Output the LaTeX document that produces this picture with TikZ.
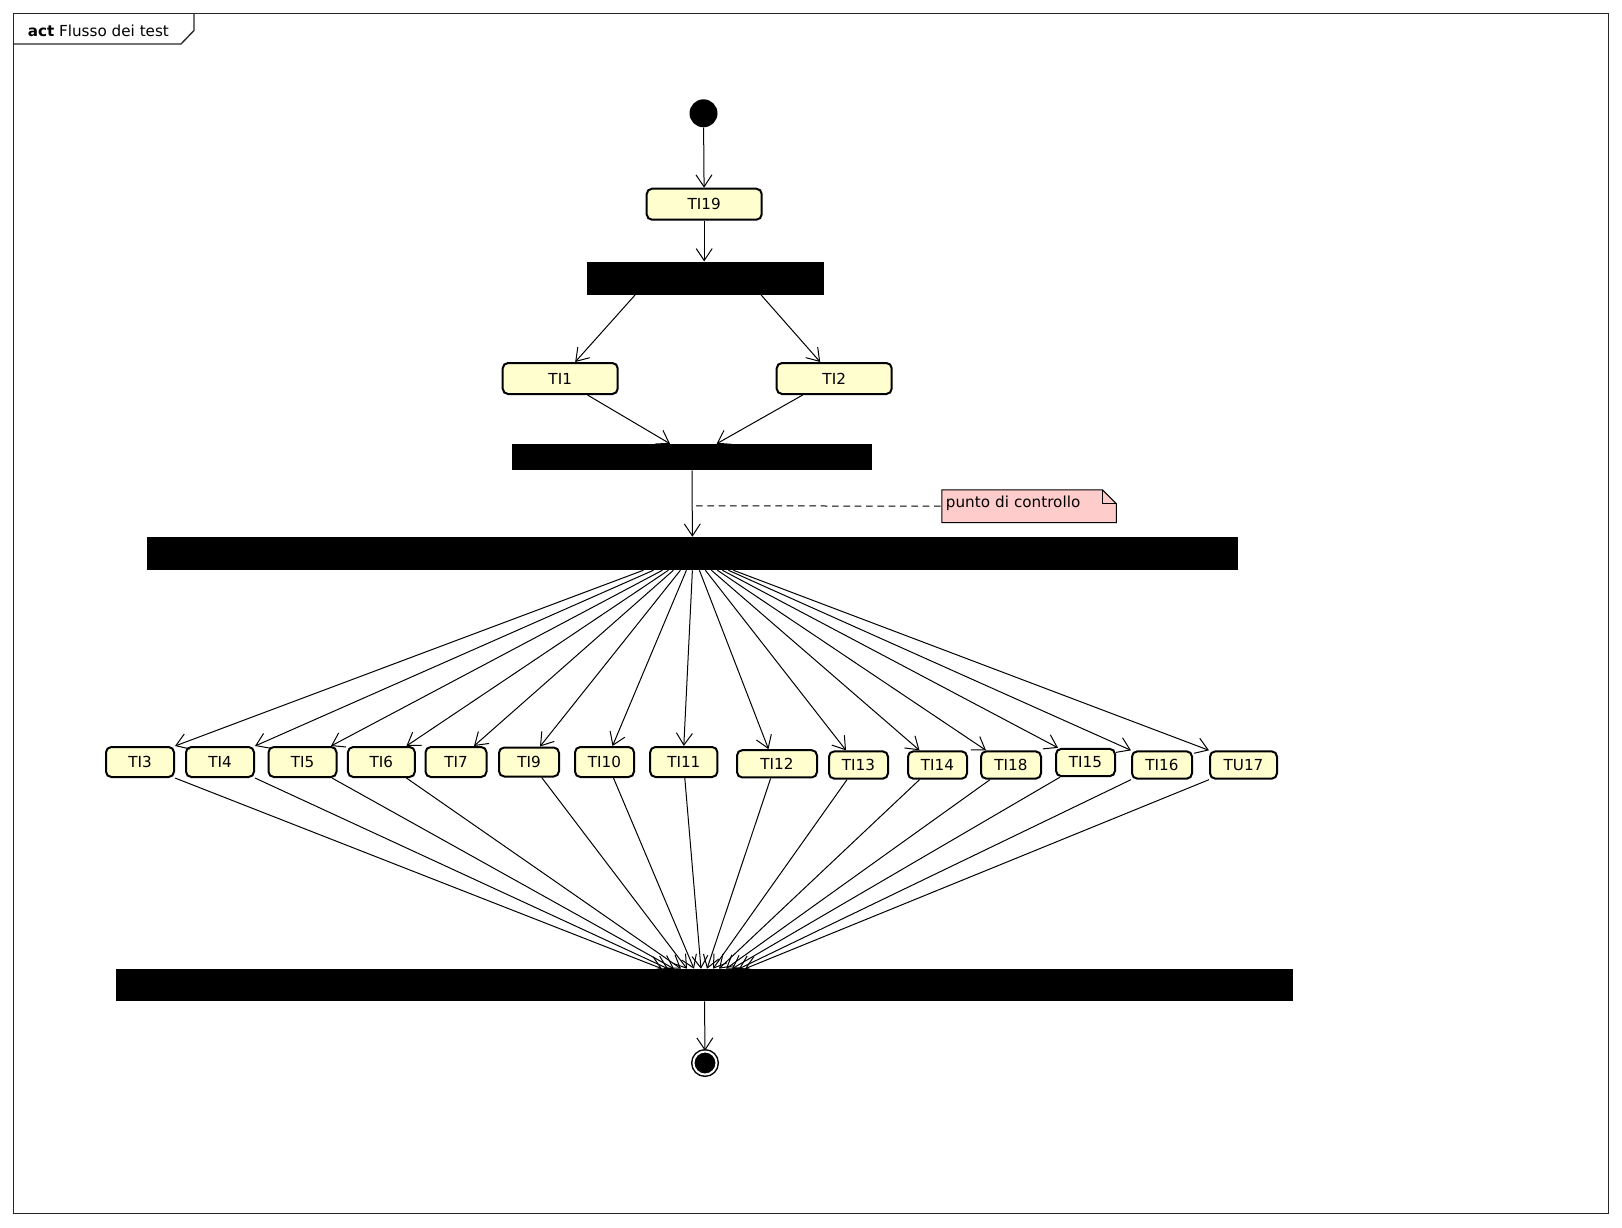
\documentclass[tikz,border=0pt]{standalone}
\usepackage{fontspec}
\setmainfont{DejaVu Sans}
\usepackage{tikz}
\usetikzlibrary{shapes, arrows.meta, calc, backgrounds}
\definecolor{actfill}{HTML}{FEFECE}
\definecolor{notefill}{HTML}{FFCCCC}
\tikzstyle{activity} = [rectangle, draw, line width=1.5pt, rounded corners=4pt,
    fill=actfill, inner sep=0pt, minimum height=22.5pt]
\tikzstyle{forkbar} = [rectangle, fill=black, inner sep=0pt]
\tikzstyle{line} = [draw, line width=0.75pt, -{Straight Barb[length=9pt,width=12pt]}]

\begin{document}
\begin{tikzpicture}[x=0.75pt, y=-0.75pt, font=\fontsize{11.4pt}{13pt}\selectfont,
    startnode/.style={circle, fill=black, inner sep=0pt, minimum size=21pt},
    stopnode/.style={circle, draw=black, fill=black, double=white,
        double distance=1.5pt, line width=1.1pt, inner sep=0pt, minimum size=17.3pt},
    notebox/.style={inner xsep=2.75pt, inner ysep=0pt, text width=125pt, align=left,
        minimum height=24.2pt, text height=0.76em, text depth=0.5em},
    bigbox/.style={minimum width=86.25pt, minimum height=23.25pt},
    lowbox/.style={minimum height=20.5pt}
    ]
    \useasboundingbox (0,0) rectangle (1622,1228);

    % frame
    \draw[line width=1pt, black!85] (13.5,13.5) rectangle (1608.5,1213.5);
    \node[anchor=west, inner sep=0pt] (title) at (27.5,30.5) {\textbf{act} Flusso dei test};
    \draw[line width=1pt, black!85] (13.5,44) -- (181,44) -- (194,30.5) -- (194,13.5);

    \node[startnode] (start) at (703.5,113.3) {};
    \node[activity, bigbox] (ti19) at (704.2,204.2) {TI19};
    \node[forkbar, minimum width=177.75pt, minimum height=24.75pt] (fork1) at (705.1,278.2) {};
    \node[activity, bigbox] (ti1) at (560.2,378.5) {TI1};
    \node[activity, bigbox] (ti2) at (834.2,378.5) {TI2};
    \node[forkbar, minimum width=270pt, minimum height=19.5pt] (join1) at (692,457) {};
    \node[forkbar, minimum width=818.25pt, minimum height=24.75pt] (fork2) at (692.4,553.5) {};
    \node[notebox] (note) at (1029.2,506.2) {punto di controllo};

    \node[activity, minimum width=51pt] (ti3) at (140,762) {TI3};
    \node[activity, minimum width=51pt] (ti4) at (220,762) {TI4};
    \node[activity, minimum width=51pt] (ti5) at (302.5,762) {TI5};
    \node[activity, minimum width=50.25pt] (ti6) at (381.4,762) {TI6};
    \node[activity, minimum width=45.75pt] (ti7) at (456,762) {TI7};
    \node[activity, minimum width=45pt, minimum height=21.75pt] (ti9) at (529,762) {TI9};
    \node[activity, minimum width=44.25pt] (ti10) at (604.5,762) {TI10};
    \node[activity, minimum width=50.5pt] (ti11) at (683.8,762) {TI11};
    \node[activity, lowbox, minimum width=60pt] (ti12) at (777,763.8) {TI12};
    \node[activity, lowbox, minimum width=44.25pt] (ti13) at (858.5,765) {TI13};
    \node[activity, lowbox, minimum width=44.25pt] (ti14) at (937.5,765) {TI14};
    \node[activity, lowbox, minimum width=45pt] (ti18) at (1011,765) {TI18};
    \node[activity, lowbox, minimum width=44.25pt] (ti15) at (1085.5,762.5) {TI15};
    \node[activity, lowbox, minimum width=45pt] (ti16) at (1162,765) {TI16};
    \node[activity, lowbox, minimum width=50.25pt] (tu17) at (1243.5,765) {TU17};

    \node[forkbar, minimum width=882.75pt, minimum height=24pt] (join2) at (704.5,985) {};
    \node[stopnode] (stop) at (705,1063) {};

    % note with folded corner
    \begin{scope}[on background layer]
        \draw[line width=0.75pt, fill=notefill] (note.north west)
            -- ($(note.north east)+(-14,0)$) -- ($(note.north east)+(0,14)$)
            -- (note.south east) -- (note.south west) -- cycle;
        \draw[line width=0.75pt] ($(note.north east)+(-14,0)$)
            -- ($(note.north east)+(-14,14)$) -- ($(note.north east)+(0,14)$);
    \end{scope}

    \draw[line] (start) -- (ti19);
    \draw[line] (ti19.south) -- (ti19.south |- fork1.north);
    \draw[line] ($(fork1.south)+(-70,0)$) -- ($(ti1.north)+(15,0)$);
    \draw[line] ($(fork1.south)+(56,0)$) -- ($(ti2.north)+(-14,0)$);
    \draw[line] ($(ti1.south)+(27.3,0)$) -- ($(join1.north)+(-22,0)$);
    \draw[line] ($(ti2.south)+(-31.5,0)$) -- ($(join1.north)+(24.7,0)$);
    \draw[line] (join1.south) -- (fork2.north);
    \coordinate (ctl) at ($(join1.south)+(4,35.5)$);
    \draw[line width=0.75pt, dash pattern=on 5pt off 3.5pt] (ctl) -- (note.west);

    % fork to the tests
    \draw[line] ($(fork2.south)+(-49,0)$) -- (ti3.north east);
    \draw[line] ($(fork2.south)+(-39,0)$) -- (ti4.north east);
    \draw[line] ($(fork2.south)+(-30,0)$) -- ($(ti5.north)+(28.5,0)$);
    \draw[line] ($(fork2.south)+(-24,0)$) -- ($(ti6.north)+(25,0)$);
    \draw[line] ($(fork2.south)+(-19,0)$) -- ($(ti7.north)+(18,0)$);
    \draw[line] ($(fork2.south)+(-12,0)$) -- ($(ti9.north)+(11,0)$);
    \draw[line] ($(fork2.south)+(-6,0)$) -- ($(ti10.north)+(8,0)$);
    \draw[line] (fork2.south) -- (ti11.north);
    \draw[line] ($(fork2.south)+(7,0)$) -- ($(ti12.north)+(-8.5,0)$);
    \draw[line] ($(fork2.south)+(13,0)$) -- ($(ti13.north)+(-12.5,0)$);
    \draw[line] ($(fork2.south)+(19,0)$) -- ($(ti14.north)+(-18,0)$);
    \draw[line] ($(fork2.south)+(25,0)$) -- ($(ti18.north)+(-25,0)$);
    \draw[line] ($(fork2.south)+(30,0)$) -- ($(ti15.north)+(-27.5,0)$);
    \draw[line] ($(fork2.south)+(36,0)$) -- (ti16.north west);
    \draw[line] ($(fork2.south)+(41,0)$) -- (tu17.north west);

    % tests to the join
    \draw[line] (ti3.south east) -- ($(join2.north)+(-42.5,0)$);
    \draw[line] (ti4.south east) -- ($(join2.north)+(-36.5,0)$);
    \draw[line] ($(ti5.south)+(29.5,0)$) -- ($(join2.north)+(-30.5,0)$);
    \draw[line] ($(ti6.south)+(25,0)$) -- ($(join2.north)+(-23.5,0)$);
    \draw[line] ($(ti9.south)+(12.7,0)$) -- ($(join2.north)+(-17.5,0)$);
    \draw[line] ($(ti10.south)+(9,0)$) -- ($(join2.north)+(-10.5,0)$);
    \draw[line] ($(ti11.south)+(1,0)$) -- ($(join2.north)+(-3.5,0)$);
    \draw[line] ($(ti12.south)+(-6.4,0)$) -- ($(join2.north)+(2.5,0)$);
    \draw[line] ($(ti13.south)+(-11.5,0)$) -- ($(join2.north)+(8.5,0)$);
    \draw[line] ($(ti14.south)+(-18,0)$) -- ($(join2.north)+(14.5,0)$);
    \draw[line] ($(ti18.south)+(-21,0)$) -- ($(join2.north)+(21.5,0)$);
    \draw[line] ($(ti15.south)+(-25.5,0)$) -- ($(join2.north)+(27.5,0)$);
    \draw[line] (ti16.south west) -- ($(join2.north)+(34.5,0)$);
    \draw[line] (tu17.south west) -- ($(join2.north)+(40.5,0)$);

    \draw[line] (join2.south) -- (stop.north);
\end{tikzpicture}
\end{document}
